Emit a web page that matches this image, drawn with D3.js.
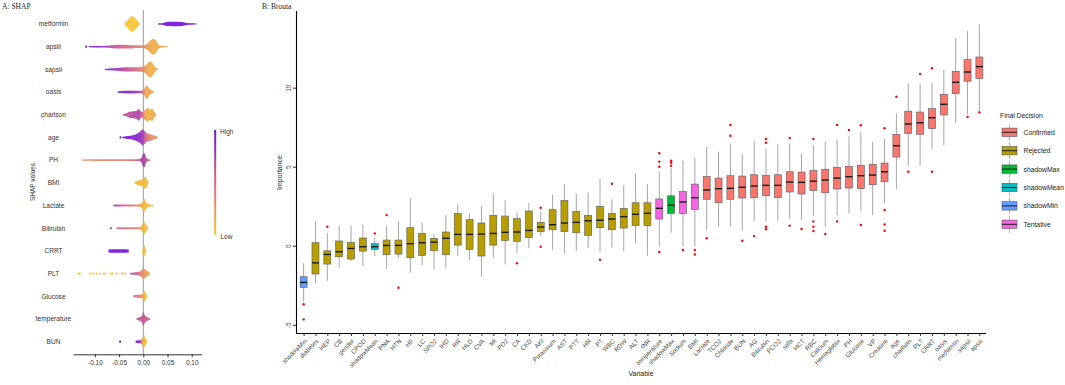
<!DOCTYPE html>
<html>
<head>
<meta charset="utf-8">
<script src="https://cdn.jsdelivr.net/npm/d3@7"></script>
<style>
  body { margin: 0; background: #fff; }
  svg { display: block; font-family: "Liberation Sans", Arial, sans-serif; }
</style>
</head>
<body>
<svg width="1065" height="385"></svg>
<script>
// ---- panel A: SHAP summary (beeswarm read as density profiles) ----
var shapFeatures = ["metformin", "apsiii", "sapsii", "oasis", "charlson", "age", "PH", "BMI",
  "Lactate", "Bilirubin", "CRRT", "PLT", "Glucose", "temperature", "BUN"];

// per feature: segments of [shap value, relative density, feature value (0 low .. 1 high)]
var shapProfiles = [
  [[[-0.039, 0, 0], [-0.032, 0.6, 0], [-0.023, 1, 0], [-0.014, 0.6, 0], [-0.007, 0, 0]],
   [[0.031, 0.05, 1], [0.040, 0.1, 1], [0.045, 0.3, 1], [0.060, 0.36, 1], [0.080, 0.32, 1], [0.090, 0.15, 1], [0.100, 0.08, 1], [0.110, 0.04, 1]]],
  [[[-0.112, 0.05, 1], [-0.100, 0.08, 0.95], [-0.085, 0.1, 0.9], [-0.07, 0.18, 0.75], [-0.06, 0.3, 0.62], [-0.045, 0.32, 0.55], [-0.03, 0.3, 0.5], [-0.02, 0.25, 0.45], [-0.01, 0.22, 0.4], [0.0, 0.25, 0.35], [0.008, 0.45, 0.25], [0.014, 0.8, 0.15], [0.020, 1, 0.12], [0.026, 0.85, 0.12], [0.032, 0.3, 0.15], [0.04, 0.1, 0.2], [0.05, 0.04, 0.2]]],
  [[[-0.079, 0.08, 1], [-0.07, 0.15, 0.9], [-0.055, 0.25, 0.8], [-0.045, 0.3, 0.7], [-0.03, 0.35, 0.6], [-0.015, 0.35, 0.5], [-0.005, 0.4, 0.4], [0.004, 0.55, 0.25], [0.010, 0.9, 0.15], [0.015, 1, 0.12], [0.021, 0.7, 0.12], [0.025, 0.3, 0.15], [0.030, 0.08, 0.2]]],
  [[[-0.053, 0.06, 1], [-0.045, 0.15, 0.95], [-0.03, 0.22, 0.9], [-0.02, 0.22, 0.85], [-0.01, 0.2, 0.8], [-0.003, 0.25, 0.6], [0.002, 0.5, 0.3], [0.006, 0.9, 0.15], [0.009, 0.8, 0.15], [0.013, 0.5, 0.2], [0.018, 0.2, 0.2], [0.022, 0.05, 0.2]]],
  [[[-0.042, 0.06, 0.7], [-0.035, 0.25, 0.65], [-0.027, 0.5, 0.65], [-0.02, 0.55, 0.7], [-0.014, 0.6, 0.7], [-0.010, 0.8, 0.7], [-0.006, 0.6, 0.65], [-0.002, 0.4, 0.55], [0.001, 0.6, 0.3], [0.005, 0.75, 0.15], [0.010, 0.9, 0.12], [0.014, 0.7, 0.12], [0.018, 0.85, 0.15], [0.022, 0.5, 0.15], [0.026, 0.08, 0.2]]],
  [[[-0.043, 0.1, 1], [-0.035, 0.2, 1], [-0.027, 0.3, 0.95], [-0.02, 0.4, 0.9], [-0.012, 0.6, 0.9], [-0.006, 0.8, 0.85], [-0.002, 1, 0.8], [0.003, 0.85, 0.6], [0.008, 0.6, 0.45], [0.013, 0.55, 0.35], [0.018, 0.45, 0.3], [0.024, 0.3, 0.3], [0.030, 0.08, 0.3]]],
  [[[-0.127, 0.06, 0.25], [-0.1, 0.1, 0.3], [-0.07, 0.1, 0.35], [-0.04, 0.1, 0.35], [-0.02, 0.12, 0.45], [-0.008, 0.2, 0.6], [-0.003, 0.5, 0.75], [0.0, 0.9, 0.75], [0.003, 0.9, 0.7], [0.006, 0.4, 0.65], [0.010, 0.2, 0.5], [0.015, 0.06, 0.4]]],
  [[[-0.018, 0.15, 0.05], [-0.012, 0.35, 0.05], [-0.006, 0.5, 0.05], [0.0, 0.6, 0.05], [0.004, 0.85, 0.05], [0.008, 0.5, 0.05], [0.011, 0.08, 0.05]]],
  [[[-0.062, 0.08, 0.8], [-0.05, 0.15, 0.65], [-0.035, 0.15, 0.5], [-0.02, 0.15, 0.4], [-0.008, 0.2, 0.3], [-0.002, 0.5, 0.1], [0.002, 0.9, 0.05], [0.006, 0.5, 0.05], [0.012, 0.2, 0.05], [0.021, 0.06, 0.05]]],
  [[[-0.055, 0.08, 0.6], [-0.04, 0.15, 0.5], [-0.025, 0.15, 0.45], [-0.012, 0.15, 0.35], [-0.004, 0.3, 0.15], [0.001, 0.9, 0.05], [0.005, 0.6, 0.05], [0.010, 0.08, 0.05]]],
  [[[-0.072, 0.25, 1], [-0.06, 0.3, 1], [-0.045, 0.3, 1], [-0.030, 0.25, 1]],
   [[-0.002, 0.2, 0.05], [0.0, 0.7, 0.05], [0.002, 0.8, 0.05], [0.004, 0.5, 0.05], [0.006, 0.08, 0.05]]],
  [[[-0.027, 0.1, 0.7], [-0.018, 0.2, 0.6], [-0.01, 0.3, 0.5], [-0.004, 0.5, 0.35], [0.0, 0.75, 0.3], [0.004, 0.6, 0.25], [0.009, 0.4, 0.2], [0.014, 0.08, 0.2]]],
  [[[-0.021, 0.15, 0.5], [-0.012, 0.25, 0.45], [-0.005, 0.3, 0.35], [0.0, 0.5, 0.15], [0.002, 0.8, 0.05], [0.005, 0.5, 0.05], [0.008, 0.08, 0.05]]],
  [[[-0.014, 0.15, 0.6], [-0.008, 0.3, 0.6], [-0.003, 0.5, 0.6], [0.0, 0.9, 0.6], [0.003, 0.6, 0.6], [0.008, 0.35, 0.55], [0.014, 0.08, 0.5]]],
  [[[-0.016, 0.15, 1], [-0.01, 0.25, 0.95], [-0.005, 0.3, 0.7], [-0.002, 0.5, 0.2], [0.001, 0.9, 0.05], [0.004, 0.6, 0.05], [0.008, 0.08, 0.05]]]
];

// isolated points: [shap value, feature value]
var shapDots = [
  [], [[-0.118, 1]], [], [], [], [[-0.047, 1]], [], [], [], [[-0.067, 0.8]], [],
  [[-0.134, 0], [-0.131, 0], [-0.110, 0], [-0.104, 0], [-0.097, 0], [-0.090, 0], [-0.082, 0], [-0.078, 0],
   [-0.067, 0], [-0.063, 0], [-0.055, 0.05], [-0.044, 0.05], [-0.038, 0.1]],
  [], [], [[-0.048, 1]]
];
var shapTicks = [-0.1, -0.05, 0, 0.05, 0.1];

// ---- panel B: Boruta boxplots ----
var boxVars = ["shadowMin", "diabetes", "HEP", "CB", "gender", "CPOD", "shadowMean", "PNA", "HTN", "HF",
  "LC", "SPO2", "IHD", "RR", "HLD", "CVA", "MI", "PO2", "CA", "CKD", "AKI", "Potassium", "AST", "PTT",
  "HR", "PT", "WBC", "RDW", "ALT", "INR", "temperature", "shadowMax", "Sodium", "BMI", "Lactate", "TCO2",
  "Chloride", "BUN", "AG", "Bilirubin", "PCO2", "sofa", "HCT", "RBC", "Calcium", "Hemoglobin", "PH",
  "Glucose", "VP", "Creatine", "age", "charlson", "PLT", "CRRT", "oasis", "metformin", "sapsii", "apsiii"];
var decisions = ["Confirmed", "Rejected", "shadowMax", "shadowMean", "shadowMin", "Tentative"];
var boxDecision = boxVars.map(function(v, i) {
  if (v == "shadowMin" || v == "shadowMean" || v == "shadowMax") return v;
  if (v == "temperature" || v == "Sodium" || v == "BMI") return "Tentative";
  return i < 34 ? "Rejected" : "Confirmed";
});
var boxLo = [-3.55, -2.38, -2.23, -1.39, -0.97, -1.28, -0.65, -1.47, -0.76, -1.71,
  -1.22, -1.49, -1.43, -0.63, -0.9, -1.96, -0.76, -1.18, -0.48, -0.17, 0.6, -0.27, -0.5, -0.32,
  -0.17, -0.38, -0.13, -0.36, 0.15, -0.63, -0.06, 0.82, -0.06, -0.06, 0.99, 1.2,
  1.23, 0.95, 1.54, 1.54, 1.58, 1.69, 1.63, 1.88, 1.2, 1.92, 2.05,
  2.18, 1.94, 2.68, 3.57, 5.06, 5.06, 6.12, 6.35, 7.75, 8.29, 8.46];
var boxQ1 = [-2.63, -1.79, -1.16, -0.70, -0.84, -0.34, -0.23, -0.57, -0.53, -0.76,
  -0.61, -0.32, -0.57, 0.04, -0.23, -0.65, 0.04, 0.32, 0.28, 0.51, 0.89, 1.01, 0.89, 0.82,
  0.66, 1.14, 1.01, 1.12, 1.27, 1.27, 1.69, 2.05, 2.03, 2.3, 2.94, 2.72,
  2.94, 3.02, 3.04, 3.16, 3.04, 3.4, 3.27, 3.5, 3.35, 3.59, 3.65,
  3.61, 3.86, 4.05, 5.61, 7.11, 7.05, 7.41, 8.27, 9.62, 10.41, 10.57];
var boxMed = [-2.32, -1.08, -0.55, -0.38, -0.17, -0.06, -0.06, 0.02, 0.02, 0.13,
  0.19, 0.23, 0.47, 0.72, 0.72, 0.74, 0.78, 0.85, 0.87, 0.97, 1.18, 1.33, 1.44, 1.48,
  1.58, 1.61, 1.69, 1.84, 1.99, 2.05, 2.37, 2.56, 2.77, 3.04, 3.53, 3.61,
  3.63, 3.7, 3.78, 3.82, 3.82, 4.03, 4.01, 4.08, 4.16, 4.28, 4.37,
  4.43, 4.47, 4.68, 6.33, 7.7, 7.78, 8.1, 8.95, 10.34, 10.99, 11.33];
var boxQ3 = [-1.96, 0.19, -0.32, 0.30, 0.21, 0.49, 0.13, 0.36, 0.36, 1.14,
  0.78, 0.47, 0.87, 2.05, 1.65, 1.44, 1.92, 1.88, 1.71, 2.2, 1.48, 2.28, 2.87, 2.18,
  1.92, 2.49, 2.05, 2.37, 2.72, 2.72, 2.96, 3.16, 3.42, 3.9, 4.39, 4.28,
  4.43, 4.41, 4.49, 4.46, 4.49, 4.68, 4.66, 4.77, 4.84, 4.96, 5.03,
  5.09, 5.15, 5.23, 7.05, 8.51, 8.46, 8.67, 9.58, 11.04, 11.77, 11.94];
var boxHi = [-1.11, 1.56, 0.82, 1.27, 1.27, 1.35, 0.51, 1.27, 1.56, 3.0,
  1.48, 0.74, 1.94, 2.62, 2.05, 2.51, 3.32, 2.89, 2.11, 2.7, 2.15, 3.23, 3.89, 3.29,
  3.38, 4.22, 2.94, 3.82, 4.58, 3.89, 4.71, 4.9, 5.4, 5.57, 6.25, 5.95,
  6.42, 5.82, 6.63, 6.16, 6.42, 6.46, 5.85, 6.35, 6.56, 6.73, 6.92,
  7.2, 6.56, 6.75, 8.38, 10.28, 10.23, 10.3, 11.12, 13.13, 13.59, 14.01];
var boxOut = [[-3.7, -4.66], [], [1.2], [], [], [], [0.78], [1.94], [-2.66], [],
  [], [], [], [], [], [], [], [], [-1.11], [], [2.4, -0.06], [], [], [],
  [], [-0.89], [3.92], [], [], [], [5.0, 5.32, 5.85, -0.4], [5.06, 5.25, 5.38], [-0.27], [-0.27, -0.55], [0.47], [],
  [6.96, 7.64], [0.32], [0.61], [6.52, 6.75, 1.2, 1.04], [], [6.82, 1.27], [1.06], [6.75, 1.54, 1.2, 0.93], [0.74], [7.64, 1.54], [7.32],
  [7.62, 1.31], [], [7.43, 2.26, 1.35, 0.95], [9.43], [4.68], [10.87], [11.23, 4.68], [], [], [8.15], [8.44]];
var importanceTicks = [-5, 0, 5, 10];

var svg = d3.select("svg");
var txt = "#333";

// ================= panel A =================
var xA = d3.scaleLinear().domain([-0.145, 0.12]).range([73.1, 201.4]);
var yA = d3.scalePoint().domain(shapFeatures).range([24, 341.7]);
var hA = d3.scalePow().exponent(1.5).domain([0, 1]).range([0.55, 8]);
var colA = d3.scaleLinear().domain([0, 0.5, 1]).range(["#f7c331", "#d86a82", "#7412db"]);
var defs = svg.append("defs");

svg.append("text").attr("x", 2).attr("y", 9).attr("font-family", "Liberation Serif, serif")
  .attr("font-size", 7.5).attr("fill", "#222").text("A: SHAP");

svg.append("line").attr("x1", xA(0)).attr("x2", xA(0)).attr("y1", 10).attr("y2", 354)
  .attr("stroke", "#999").attr("stroke-width", 1);

var area = d3.area().curve(d3.curveMonotoneX);
shapFeatures.forEach(function(f, i) {
  var yc = yA(f);
  svg.append("text").attr("x", 53.5).attr("y", yc + 2.3).attr("text-anchor", "middle")
    .attr("font-size", 6.6).attr("fill", txt).text(f);
  shapProfiles[i].forEach(function(seg, j) {
    var x1 = xA(seg[0][0]), x2 = xA(seg[seg.length - 1][0]);
    var gid = "g" + i + "_" + j;
    var g = defs.append("linearGradient").attr("id", gid).attr("gradientUnits", "userSpaceOnUse")
      .attr("x1", x1).attr("x2", x2).attr("y1", 0).attr("y2", 0);
    seg.forEach(function(d) {
      g.append("stop").attr("offset", (xA(d[0]) - x1) / (x2 - x1)).attr("stop-color", colA(d[2]));
    });
    area.x(function(d) { return xA(d[0]); })
      .y0(function(d) { return yc + hA(d[1]); })
      .y1(function(d) { return yc - hA(d[1]); });
    svg.append("path").attr("d", area(seg)).attr("fill", "url(#" + gid + ")").attr("fill-opacity", 0.92);
  });
  svg.selectAll(null).data(shapDots[i]).enter().append("circle")
    .attr("cx", function(d) { return xA(d[0]); }).attr("cy", yc).attr("r", 1.1)
    .attr("fill", function(d) { return colA(d[1]); });
});

var axA = svg.append("g").attr("transform", "translate(0,354.3)")
  .call(d3.axisBottom(xA).tickValues(shapTicks).tickFormat(d3.format(".2f")).tickSize(3).tickSizeOuter(0));
axA.select(".domain").attr("stroke", "#333");
axA.selectAll(".tick line").attr("stroke", "#333");
axA.selectAll("text").attr("font-size", 6.5).attr("fill", txt).attr("font-family", "Liberation Sans, Arial, sans-serif")
  .text(function(d) { return d3.format(".2f")(d).replace("−", "-"); });

svg.append("text").attr("transform", "translate(34.5,182) rotate(-90)").attr("text-anchor", "middle")
  .attr("font-size", 6.5).attr("fill", txt).text("SHAP values");

// colour bar
var cg = defs.append("linearGradient").attr("id", "cbar").attr("x1", 0).attr("x2", 0).attr("y1", 0).attr("y2", 1);
[[0, 1], [0.5, 0.5], [1, 0]].forEach(function(s) {
  cg.append("stop").attr("offset", s[0]).attr("stop-color", colA(s[1]));
});
svg.append("rect").attr("x", 214.2).attr("y", 130).attr("width", 2).attr("height", 105).attr("fill", "url(#cbar)");
svg.append("text").attr("x", 220).attr("y", 133.5).attr("font-size", 6.5).attr("fill", txt).text("High");
svg.append("text").attr("x", 220.5).attr("y", 238.5).attr("font-size", 6.5).attr("fill", txt).text("Low");

// ================= panel B =================
var fillB = d3.scaleOrdinal().domain(decisions)
  .range(["#F8766D", "#B79F00", "#00BA38", "#00BFC4", "#619CFF", "#F564E3"]);
var xB = d3.scalePoint().domain(boxVars).range([296.5, 986.5]).padding(0.6);
var yB = d3.scaleLinear().domain([-5.52, 14.85]).range([333, 11]);
var bw = 7;

svg.append("text").attr("x", 262).attr("y", 9).attr("font-family", "Liberation Serif, serif")
  .attr("font-size", 7.5).attr("fill", "#222").text("B: Brouta");

var boxes = svg.append("g").selectAll("g").data(boxVars).enter().append("g")
  .attr("transform", function(d) { return "translate(" + xB(d) + ",0)"; });
boxes.append("line").attr("x1", 0).attr("x2", 0)
  .attr("y1", function(d, i) { return yB(boxHi[i]); }).attr("y2", function(d, i) { return yB(boxLo[i]); })
  .attr("stroke", "#a6a6a6").attr("stroke-width", 1);
boxes.append("rect").attr("x", -bw / 2).attr("width", bw)
  .attr("y", function(d, i) { return yB(boxQ3[i]); })
  .attr("height", function(d, i) { return yB(boxQ1[i]) - yB(boxQ3[i]); })
  .attr("fill", function(d, i) { return fillB(boxDecision[i]); })
  .attr("stroke", "#5a5a5a").attr("stroke-width", 0.6);
boxes.append("line").attr("x1", -bw / 2).attr("x2", bw / 2)
  .attr("y1", function(d, i) { return yB(boxMed[i]); }).attr("y2", function(d, i) { return yB(boxMed[i]); })
  .attr("stroke", "#1a1a1a").attr("stroke-width", 1.4);
boxes.selectAll("circle").data(function(d, i) { return boxOut[i]; }).enter().append("circle")
  .attr("cx", 0).attr("cy", function(v) { return yB(v); }).attr("r", 1.2).attr("fill", "#ff0000");

var axX = svg.append("g").attr("transform", "translate(0,333)")
  .call(d3.axisBottom(xB).tickSize(3).tickSizeOuter(0));
axX.select(".domain").attr("d", "M296,0.5H986").attr("stroke", "#000").attr("stroke-width", 1.1);
axX.selectAll(".tick line").attr("stroke", "#333");
axX.selectAll("text").attr("font-size", 6.3).attr("fill", "#4d4d4d")
  .attr("font-family", "Liberation Sans, Arial, sans-serif")
  .attr("text-anchor", "end").attr("x", 0).attr("y", 0).attr("dy", "0.35em")
  .attr("transform", "translate(1.5,7) rotate(-45)");

var axY = svg.append("g").attr("transform", "translate(296,0)")
  .call(d3.axisLeft(yB).tickValues(importanceTicks).tickSize(3).tickSizeOuter(0));
axY.select(".domain").attr("d", "M0.5,11V333").attr("stroke", "#000").attr("stroke-width", 1.1);
axY.selectAll(".tick line").attr("stroke", "#333");
axY.selectAll("text").attr("font-size", 6.5).attr("fill", "#4d4d4d")
  .attr("font-family", "Liberation Sans, Arial, sans-serif")
  .text(function(d) { return String(d); })
  .attr("text-anchor", "middle").attr("x", 0).attr("y", -5).attr("dy", 0)
  .attr("transform", "rotate(-90)");

svg.append("text").attr("transform", "translate(281.5,172.5) rotate(-90)").attr("text-anchor", "middle")
  .attr("font-size", 7).attr("fill", "#222").text("Importance");
svg.append("text").attr("x", 641).attr("y", 376).attr("text-anchor", "middle")
  .attr("font-size", 7).attr("fill", "#222").text("Variable");

// legend
svg.append("text").attr("x", 1000).attr("y", 117.5).attr("font-size", 6.8).attr("fill", "#222").text("Final Decision");
var leg = svg.append("g").selectAll("g").data(decisions).enter().append("g")
  .attr("transform", function(d, i) { return "translate(1002," + (132.3 + i * 18.4) + ")"; });
leg.append("line").attr("x1", 7.5).attr("x2", 7.5).attr("y1", -8.5).attr("y2", 8.5)
  .attr("stroke", "#a6a6a6").attr("stroke-width", 0.8);
leg.append("rect").attr("x", 0).attr("y", -4.2).attr("width", 15).attr("height", 8.4)
  .attr("fill", function(d) { return fillB(d); }).attr("stroke", "#5a5a5a").attr("stroke-width", 0.6);
leg.append("line").attr("x1", 0).attr("x2", 15).attr("y1", 0).attr("y2", 0)
  .attr("stroke", "#1a1a1a").attr("stroke-width", 1);
leg.append("text").attr("x", 21.5).attr("y", 2.5).attr("font-size", 6.8).attr("fill", "#222")
  .text(function(d) { return d; });
</script>
</body>
</html>
